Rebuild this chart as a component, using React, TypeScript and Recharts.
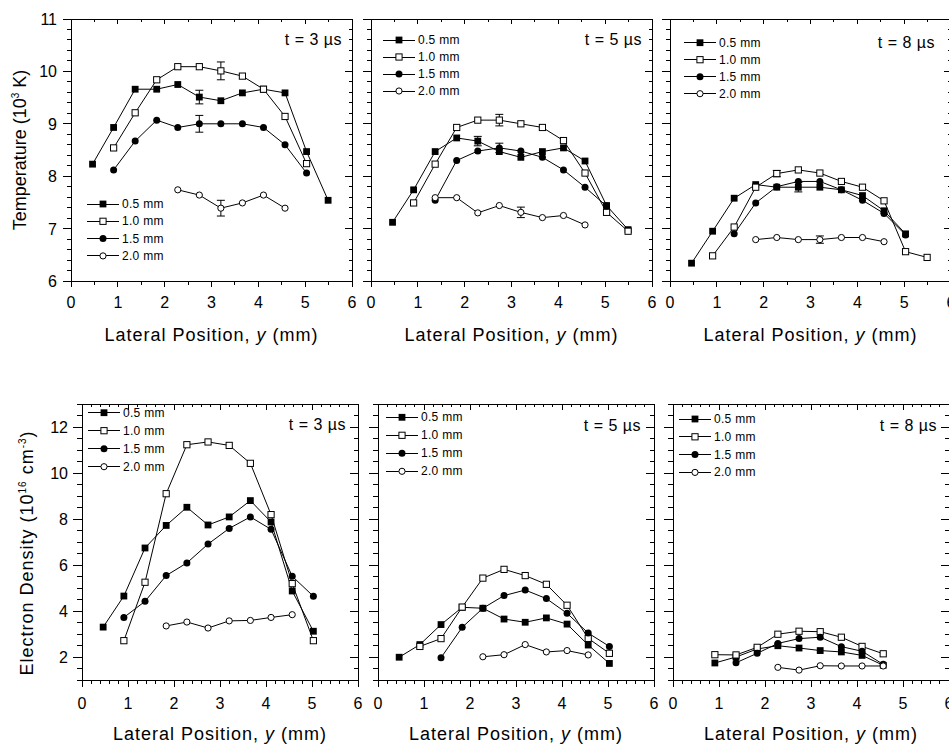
import React from 'react';
import { LineChart, Line, XAxis, YAxis, ErrorBar } from 'recharts';

const FONT = "'Liberation Sans', Arial, Helvetica, sans-serif";

// lateral positions where the spectra were taken (mm)
const LATERAL = [0.46, 0.91, 1.37, 1.83, 2.28, 2.74, 3.2, 3.66, 4.11, 4.57, 5.03, 5.49];
const HEIGHTS = ['0.5 mm', '1.0 mm', '1.5 mm', '2.0 mm'];

const X_MAJOR = [0, 1, 2, 3, 4, 5, 6];
const T_MAJOR = [6, 7, 8, 9, 10, 11];
const N_MAJOR = [2, 4, 6, 8, 10, 12];

// temperature (10^3 K), t = 3 us
const T3_START = [0, 1, 1, 4];
const T3_05 = [8.23, 8.93, 9.66, 9.66, 9.75, 9.51, 9.44, 9.59, 9.66, 9.59, 8.47, 7.54];
const T3_10 = [8.54, 9.21, 9.84, 10.09, 10.09, 10.01, 9.91, 9.66, 9.14, 8.24];
const T3_15 = [8.12, 8.67, 9.07, 8.93, 9.0, 9.0, 9.0, 8.93, 8.6, 8.06];
const T3_20 = [7.74, 7.64, 7.39, 7.49, 7.64, 7.39];
const T3_ERR_AT = [2.74, 3.2, 2.74, 3.2];
const T3_ERR = [0.13, 0.17, 0.16, 0.15];

// temperature, t = 5 us
const T5_START = [0, 1, 2, 2];
const T5_05 = [7.12, 7.74, 8.47, 8.73, 8.67, 8.47, 8.36, 8.47, 8.54, 8.29, 7.44, 6.98];
const T5_10 = [7.49, 8.23, 8.93, 9.07, 9.07, 9.0, 8.93, 8.68, 8.06, 7.31, 6.95];
const T5_15 = [7.54, 8.3, 8.48, 8.54, 8.48, 8.36, 8.12, 7.79, 7.43];
const T5_20 = [7.59, 7.59, 7.3, 7.44, 7.31, 7.21, 7.25, 7.07];
const T5_ERR_AT = [2.28, 2.74, 2.74, 3.2];
const T5_ERR = [0.09, 0.11, 0.09, 0.1];

// temperature, t = 8 us
const T8_START = [0, 1, 2, 3];
const T8_05 = [6.34, 6.95, 7.58, 7.84, 7.79, 7.79, 7.79, 7.74, 7.63, 7.34, 6.9];
const T8_10 = [6.48, 7.03, 7.79, 8.05, 8.12, 8.06, 7.9, 7.79, 7.53, 6.56, 6.45];
const T8_15 = [6.9, 7.49, 7.8, 7.9, 7.9, 7.74, 7.54, 7.29, 6.88];
const T8_20 = [6.79, 6.83, 6.79, 6.79, 6.83, 6.83, 6.75];
const T8_ERR_AT = [2.74, 2.28, -1, 3.2];
const T8_ERR = [0.09, 0.06, 0, 0.07];

// electron density (10^16 cm^-3)
const N3_START = [0, 1, 1, 3];
const N3_05 = [3.3, 4.65, 6.74, 7.72, 8.51, 7.74, 8.09, 8.8, 7.87, 4.87, 3.12];
const N3_10 = [2.71, 5.25, 9.1, 11.23, 11.35, 11.2, 10.42, 8.19, 5.19, 2.71];
const N3_15 = [3.72, 4.42, 5.54, 6.09, 6.91, 7.59, 8.09, 7.55, 5.51, 4.64];
const N3_20 = [3.35, 3.52, 3.26, 3.57, 3.59, 3.72, 3.84];

const N5_START = [0, 1, 2, 4];
const N5_05 = [1.99, 2.54, 3.41, 4.16, 4.12, 3.65, 3.51, 3.7, 3.43, 2.52, 1.72];
const N5_10 = [2.46, 2.8, 4.17, 5.43, 5.81, 5.54, 5.16, 4.25, 2.81, 2.16];
const N5_15 = [1.97, 3.29, 4.12, 4.67, 4.91, 4.54, 3.9, 3.04, 2.46];
const N5_20 = [2.01, 2.1, 2.54, 2.22, 2.28, 2.09];

const N8_START = [1, 1, 2, 4];
const N8_05 = [1.74, 2.0, 2.35, 2.49, 2.39, 2.28, 2.22, 2.07, 1.64];
const N8_10 = [2.1, 2.09, 2.42, 2.99, 3.12, 3.1, 2.86, 2.46, 2.14];
const N8_15 = [1.75, 2.16, 2.59, 2.8, 2.86, 2.45, 2.25, 1.68];
const N8_20 = [1.55, 1.43, 1.62, 1.61, 1.61, 1.61];

type Pt = { x: number; y: number; err?: number };

const build = (values: number[], start: number, errAt?: number, err?: number): Pt[] =>
  values.map((v, i) => {
    const x = LATERAL[start + i];
    return { x, y: v, err: errAt !== undefined && Math.abs(errAt - x) < 1e-6 ? err : undefined };
  });

const steps = (from: number, to: number, step: number) => {
  const out: number[] = [];
  for (let v = from; v <= to + 1e-9; v += step) out.push(Math.round(v * 100) / 100);
  return out;
};

const Marker = ({ cx, cy, kind }: { cx: number; cy: number; kind: number }) => {
  if (cx == null || cy == null) return null;
  if (kind === 0) return <rect x={cx - 3.4} y={cy - 3.4} width={6.8} height={6.8} fill="#000" />;
  if (kind === 1)
    return <rect x={cx - 3.1} y={cy - 3.1} width={6.2} height={6.2} fill="#fff" stroke="#000" strokeWidth={1} />;
  if (kind === 2) return <circle cx={cx} cy={cy} r={3.5} fill="#000" />;
  return <circle cx={cx} cy={cy} r={3.1} fill="#fff" stroke="#000" strokeWidth={1} />;
};

type PanelProps = {
  plotLeft: number;
  plotTop: number;
  plotW: number;
  plotH: number;
  lw: number;
  rw: number;
  th: number;
  bh: number;
  yDomain: [number, number];
  yMinor: number;
  yMajor: number[];
  xMinor: number;
  xLen: [number, number];
  yLen: [number, number];
  xLabelGap: number;
  xTitleBase: number;
  showYLabels: boolean;
  yTitle?: React.ReactNode;
  tLabel: string;
  tRight: number;
  tBase: number;
  legX: number;
  legY: number;
  legGap: number;
  series: Pt[][];
};

const Panel: React.FC<PanelProps> = (p) => {
  const left = p.plotLeft - p.lw;
  const top = p.plotTop - p.th;
  const width = p.plotW + p.lw + p.rw;
  const height = p.plotH + p.th + p.bh;
  const lx = (v: number) => v - left;
  const ly = (v: number) => v - top;

  const xTicks = steps(0, 6, p.xMinor);
  const yTicks = steps(p.yDomain[0], p.yDomain[1], p.yMinor);
  const isXMajor = (v: number) => X_MAJOR.some((m) => Math.abs(m - v) < 1e-6);
  const isYMajor = (v: number) => p.yMajor.some((m) => Math.abs(m - v) < 1e-6);

  const bottomTick = (t: any) => {
    const major = isXMajor(t.payload.value);
    const len = major ? p.xLen[0] : p.xLen[1];
    return (
      <g>
        <line x1={t.x} y1={t.y} x2={t.x} y2={t.y + len} stroke="#000" shapeRendering="crispEdges" />
        {major && (
          <text x={t.x} y={t.y + p.xLabelGap} textAnchor="middle" fontSize={16} fontFamily={FONT} fill="#000">
            {t.payload.value}
          </text>
        )}
      </g>
    );
  };
  const topTick = (t: any) => {
    const major = isXMajor(t.payload.value);
    const len = major ? p.xLen[0] - 1 : p.xLen[1] - 1;
    return <line x1={t.x} y1={t.y} x2={t.x} y2={t.y + len} stroke="#000" shapeRendering="crispEdges" />;
  };
  const leftTick = (t: any) => {
    const v = t.payload.value;
    const major = isYMajor(v);
    const len = major ? p.yLen[0] : p.yLen[1];
    return (
      <g>
        <line x1={t.x - len} y1={t.y} x2={t.x} y2={t.y} stroke="#000" shapeRendering="crispEdges" />
        {major && p.showYLabels && (
          <text x={t.x - 14} y={t.y + 6} textAnchor="end" fontSize={16} fontFamily={FONT} fill="#000">
            {v}
          </text>
        )}
      </g>
    );
  };
  const rightTick = (t: any) => {
    const v = t.payload.value;
    const major = isYMajor(v);
    const len = major ? p.yLen[0] - 1 : p.yLen[1] - 1;
    return <line x1={t.x - len} y1={t.y} x2={t.x} y2={t.y} stroke="#000" shapeRendering="crispEdges" />;
  };

  const axisLine = { stroke: '#000', strokeWidth: 1, shapeRendering: 'crispEdges' };

  return (
    <div style={{ position: 'absolute', left, top, width, height }}>
      <LineChart width={width} height={height} margin={{ top: 0, right: 0, bottom: 0, left: 0 }}>
        <XAxis
          xAxisId="b"
          type="number"
          dataKey="x"
          domain={[0, 6]}
          ticks={xTicks}
          interval={0}
          height={p.bh}
          tickSize={0}
          tickMargin={0}
          tickLine={false}
          axisLine={axisLine}
          tick={bottomTick}
          allowDataOverflow
        />
        <XAxis
          xAxisId="t"
          orientation="top"
          type="number"
          dataKey="x"
          domain={[0, 6]}
          ticks={xTicks}
          interval={0}
          height={p.th}
          tickSize={0}
          tickMargin={0}
          tickLine={false}
          axisLine={axisLine}
          tick={topTick}
          allowDataOverflow
        />
        <YAxis
          yAxisId="l"
          type="number"
          domain={p.yDomain}
          ticks={yTicks}
          interval={0}
          width={p.lw}
          tickSize={0}
          tickMargin={0}
          tickLine={false}
          axisLine={axisLine}
          tick={leftTick}
          allowDataOverflow
        />
        <YAxis
          yAxisId="r"
          orientation="right"
          type="number"
          domain={p.yDomain}
          ticks={yTicks}
          interval={0}
          width={p.rw}
          tickSize={0}
          tickMargin={0}
          tickLine={false}
          axisLine={axisLine}
          tick={rightTick}
          allowDataOverflow
        />
        {p.series.map((data, k) => (
          <Line
            key={HEIGHTS[k]}
            name={HEIGHTS[k]}
            xAxisId="b"
            yAxisId="l"
            data={data}
            dataKey="y"
            type="linear"
            stroke="#000"
            strokeWidth={1}
            isAnimationActive={false}
            dot={(d: any) => <Marker key={`m${k}-${d.index}`} cx={d.cx} cy={d.cy} kind={k} />}
            activeDot={false}
          >
            {data.some((d) => d.err !== undefined) && (
              <ErrorBar dataKey="err" width={4} stroke="#000" strokeWidth={1} direction="y" isAnimationActive={false} />
            )}
          </Line>
        ))}

        <text
          x={lx(p.plotLeft + p.plotW / 2)}
          y={ly(p.xTitleBase)}
          textAnchor="middle"
          fontSize={18}
          letterSpacing={1}
          fontFamily={FONT}
          fill="#000"
        >
          Lateral Position, <tspan fontStyle="italic">y</tspan> (mm)
        </text>

        <text
          x={lx(p.plotLeft + p.plotW - p.tRight)}
          y={ly(p.tBase)}
          textAnchor="end"
          fontSize={16}
          letterSpacing={0.5}
          fontFamily={FONT}
          fill="#000"
        >
          t = {p.tLabel} µs
        </text>

        {HEIGHTS.map((h, k) => {
          const cy = ly(p.legY + k * p.legGap);
          const x0 = lx(p.legX);
          return (
            <g key={h}>
              <line x1={x0} y1={cy} x2={x0 + 32} y2={cy} stroke="#000" shapeRendering="crispEdges" />
              <Marker cx={x0 + 16} cy={cy} kind={k} />
              <text x={x0 + 35} y={cy + 4} fontSize={12} letterSpacing={0.3} fontFamily={FONT} fill="#000">
                {h}
              </text>
            </g>
          );
        })}

        {p.yTitle}
      </LineChart>
    </div>
  );
};

const App: React.FC = () => {
  const topRow = { plotTop: 19, plotH: 262, plotW: 281, th: 10, bh: 75 };
  const botRow = { plotTop: 404, plotH: 276, plotW: 276, th: 10, bh: 66 };

  const topCommon = {
    ...topRow,
    yDomain: [6, 11] as [number, number],
    yMinor: 0.2,
    yMajor: T_MAJOR,
    xMinor: 0.5,
    xLen: [6, 4] as [number, number],
    yLen: [8, 4] as [number, number],
    xLabelGap: 27,
    xTitleBase: 341,
    rw: 18,
    tBase: 45,
  };
  const botCommon = {
    ...botRow,
    yDomain: [1, 13] as [number, number],
    yMinor: 0.5,
    yMajor: N_MAJOR,
    xMinor: 0.2,
    xLen: [7, 4] as [number, number],
    yLen: [9, 5] as [number, number],
    xLabelGap: 29,
    xTitleBase: 740,
    rw: 18,
    tBase: 431,
  };

  const tTitle = (
    <text
      transform={`translate(26, ${150 - 9}) rotate(-90)`}
      textAnchor="middle"
      fontSize={18}
      fontFamily={FONT}
      fill="#000"
    >
      Temperature (10
      <tspan fontSize={10} dy={-7}>
        3
      </tspan>
      <tspan dy={7}> K)</tspan>
    </text>
  );
  const nTitle = (
    <text
      transform={`translate(33, ${553 - 394}) rotate(-90)`}
      textAnchor="middle"
      fontSize={18}
      letterSpacing={1}
      fontFamily={FONT}
      fill="#000"
    >
      Electron Density (10
      <tspan fontSize={10} dy={-7}>
        16
      </tspan>
      <tspan dy={7}> cm</tspan>
      <tspan fontSize={10} dy={-7}>
        -3
      </tspan>
      <tspan dy={7}>)</tspan>
    </text>
  );

  return (
    <div
      style={{
        position: 'absolute',
        left: 0,
        top: 0,
        width: 949,
        height: 746,
        overflow: 'hidden',
        background: '#fff',
        fontFamily: FONT,
      }}
    >
      <Panel
        {...topCommon}
        plotLeft={71}
        lw={71}
        showYLabels
        yTitle={tTitle}
        tLabel="3"
        tRight={10}
        legX={87}
        legY={204}
        legGap={17.3}
        series={[
          build(T3_05, T3_START[0], T3_ERR_AT[0], T3_ERR[0]),
          build(T3_10, T3_START[1], T3_ERR_AT[1], T3_ERR[1]),
          build(T3_15, T3_START[2], T3_ERR_AT[2], T3_ERR[2]),
          build(T3_20, T3_START[3], T3_ERR_AT[3], T3_ERR[3]),
        ]}
      />
      <Panel
        {...topCommon}
        plotLeft={371}
        lw={18}
        showYLabels={false}
        tLabel="5"
        tRight={10}
        legX={383}
        legY={40}
        legGap={17}
        series={[
          build(T5_05, T5_START[0], T5_ERR_AT[0], T5_ERR[0]),
          build(T5_10, T5_START[1], T5_ERR_AT[1], T5_ERR[1]),
          build(T5_15, T5_START[2], T5_ERR_AT[2], T5_ERR[2]),
          build(T5_20, T5_START[3], T5_ERR_AT[3], T5_ERR[3]),
        ]}
      />
      <Panel
        {...topCommon}
        plotLeft={670}
        lw={18}
        showYLabels={false}
        tLabel="8"
        tRight={16}
        tBase={47.5}
        legX={684}
        legY={42.7}
        legGap={17}
        series={[
          build(T8_05, T8_START[0], T8_ERR_AT[0], T8_ERR[0]),
          build(T8_10, T8_START[1], T8_ERR_AT[1], T8_ERR[1]),
          build(T8_15, T8_START[2]),
          build(T8_20, T8_START[3], T8_ERR_AT[3], T8_ERR[3]),
        ]}
      />
      <Panel
        {...botCommon}
        plotLeft={82}
        lw={82}
        showYLabels
        yTitle={nTitle}
        tLabel="3"
        tRight={12}
        tBase={430}
        legX={88}
        legY={412.7}
        legGap={18}
        series={[
          build(N3_05, N3_START[0]),
          build(N3_10, N3_START[1]),
          build(N3_15, N3_START[2]),
          build(N3_20, N3_START[3]),
        ]}
      />
      <Panel
        {...botCommon}
        plotLeft={378}
        lw={18}
        showYLabels={false}
        tLabel="5"
        tRight={13}
        legX={386}
        legY={417.3}
        legGap={18}
        series={[
          build(N5_05, N5_START[0]),
          build(N5_10, N5_START[1]),
          build(N5_15, N5_START[2]),
          build(N5_20, N5_START[3]),
        ]}
      />
      <Panel
        {...botCommon}
        plotLeft={673}
        lw={18}
        showYLabels={false}
        tLabel="8"
        tRight={12}
        legX={679}
        legY={419}
        legGap={17.8}
        series={[
          build(N8_05, N8_START[0]),
          build(N8_10, N8_START[1]),
          build(N8_15, N8_START[2]),
          build(N8_20, N8_START[3]),
        ]}
      />
    </div>
  );
};

export default App;
